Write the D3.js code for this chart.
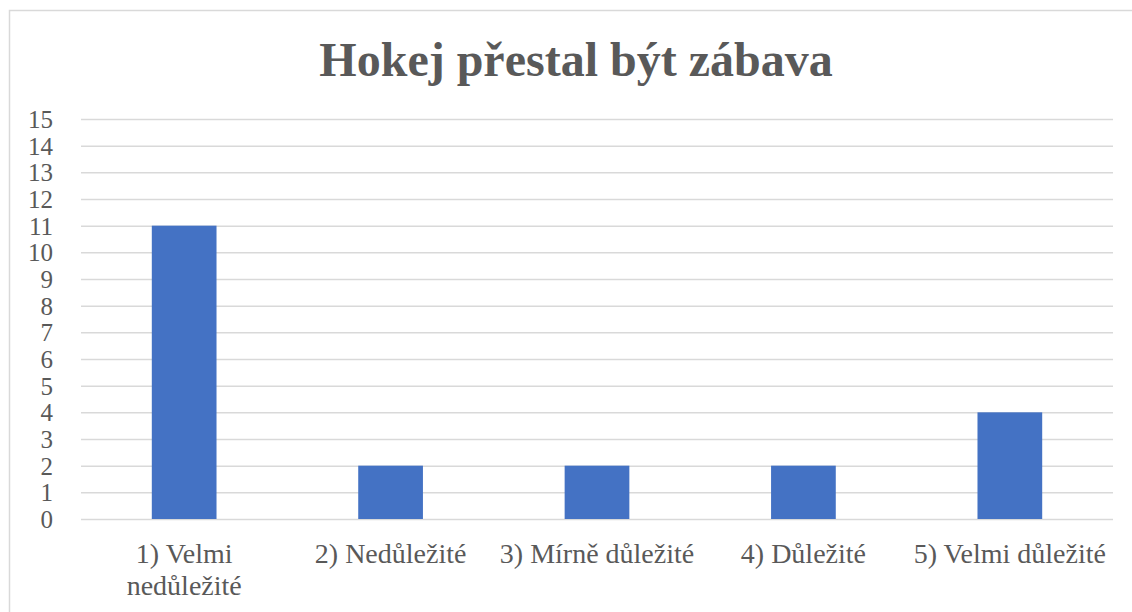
<!DOCTYPE html>
<html><head><meta charset="utf-8">
<script src="https://cdn.jsdelivr.net/npm/d3@7"></script>
<style>body{margin:0;background:#fff}svg{display:block}</style>
</head><body>
<svg id="c" width="1132" height="612"></svg>
<script>
const categories = [["1) Velmi", "nedůležité"], ["2) Nedůležité"], ["3) Mírně důležité"], ["4) Důležité"], ["5) Velmi důležité"]];
const values = [11, 2, 2, 2, 4];
const yTicks = d3.range(0, 16);
const title = "Hokej přestal být zábava";

(function () {
const FONT = "'Liberation Serif', 'Times New Roman', serif";
const svg = d3.select("#c");
svg.append("rect").attr("x", 9.5).attr("y", 10.5).attr("width", 1140).attr("height", 620)
  .attr("fill", "#fff").attr("stroke", "#d9d9d9").attr("stroke-width", 1.5);

const mL = 81, mR = 1113, mT = 119, mB = 519;
const x = d3.scaleBand().domain(d3.range(categories.length)).range([mL, mR]).paddingInner(0.6865).paddingOuter(0.343);
const y = d3.scaleLinear().domain([0, 15]).range([mB, mT]);

svg.append("text").attr("x", 576).attr("y", 76).attr("text-anchor", "middle")
  .style("font-family", FONT).attr("font-weight", "bold")
  .attr("font-size", 48).attr("fill", "#595959").text(title);

const yAxis = d3.axisLeft(y).tickValues(yTicks).tickSize(-(mR - mL)).tickPadding(28);
const ga = svg.append("g").attr("transform", `translate(${mL},0)`).call(yAxis);
ga.attr("font-family", null);
ga.select(".domain").remove();
ga.selectAll(".tick line").attr("stroke", "#d9d9d9").attr("stroke-width", 1.5);
ga.selectAll(".tick text").style("font-family", FONT)
  .attr("font-size", 25).attr("fill", "#595959").attr("dy", "0.34em");

svg.selectAll("rect.bar").data(values).join("rect").attr("class", "bar")
  .attr("x", (d, i) => x(i)).attr("width", x.bandwidth())
  .attr("y", d => y(d)).attr("height", d => y(0) - y(d)).attr("fill", "#4472C4");

const xb = d3.scaleBand().domain(d3.range(categories.length)).range([mL, mR]);
const lab = svg.append("g").selectAll("text").data(categories).join("text")
  .attr("text-anchor", "middle").style("font-family", FONT)
  .attr("font-size", 28).attr("fill", "#595959")
  .attr("transform", (d, i) => `translate(${xb(i) + xb.bandwidth() / 2},563)`);
lab.selectAll("tspan").data(d => d).join("tspan").attr("x", 0).attr("dy", (d, j) => j ? 32 : 0).text(d => d);
})();
</script>
</body></html>
